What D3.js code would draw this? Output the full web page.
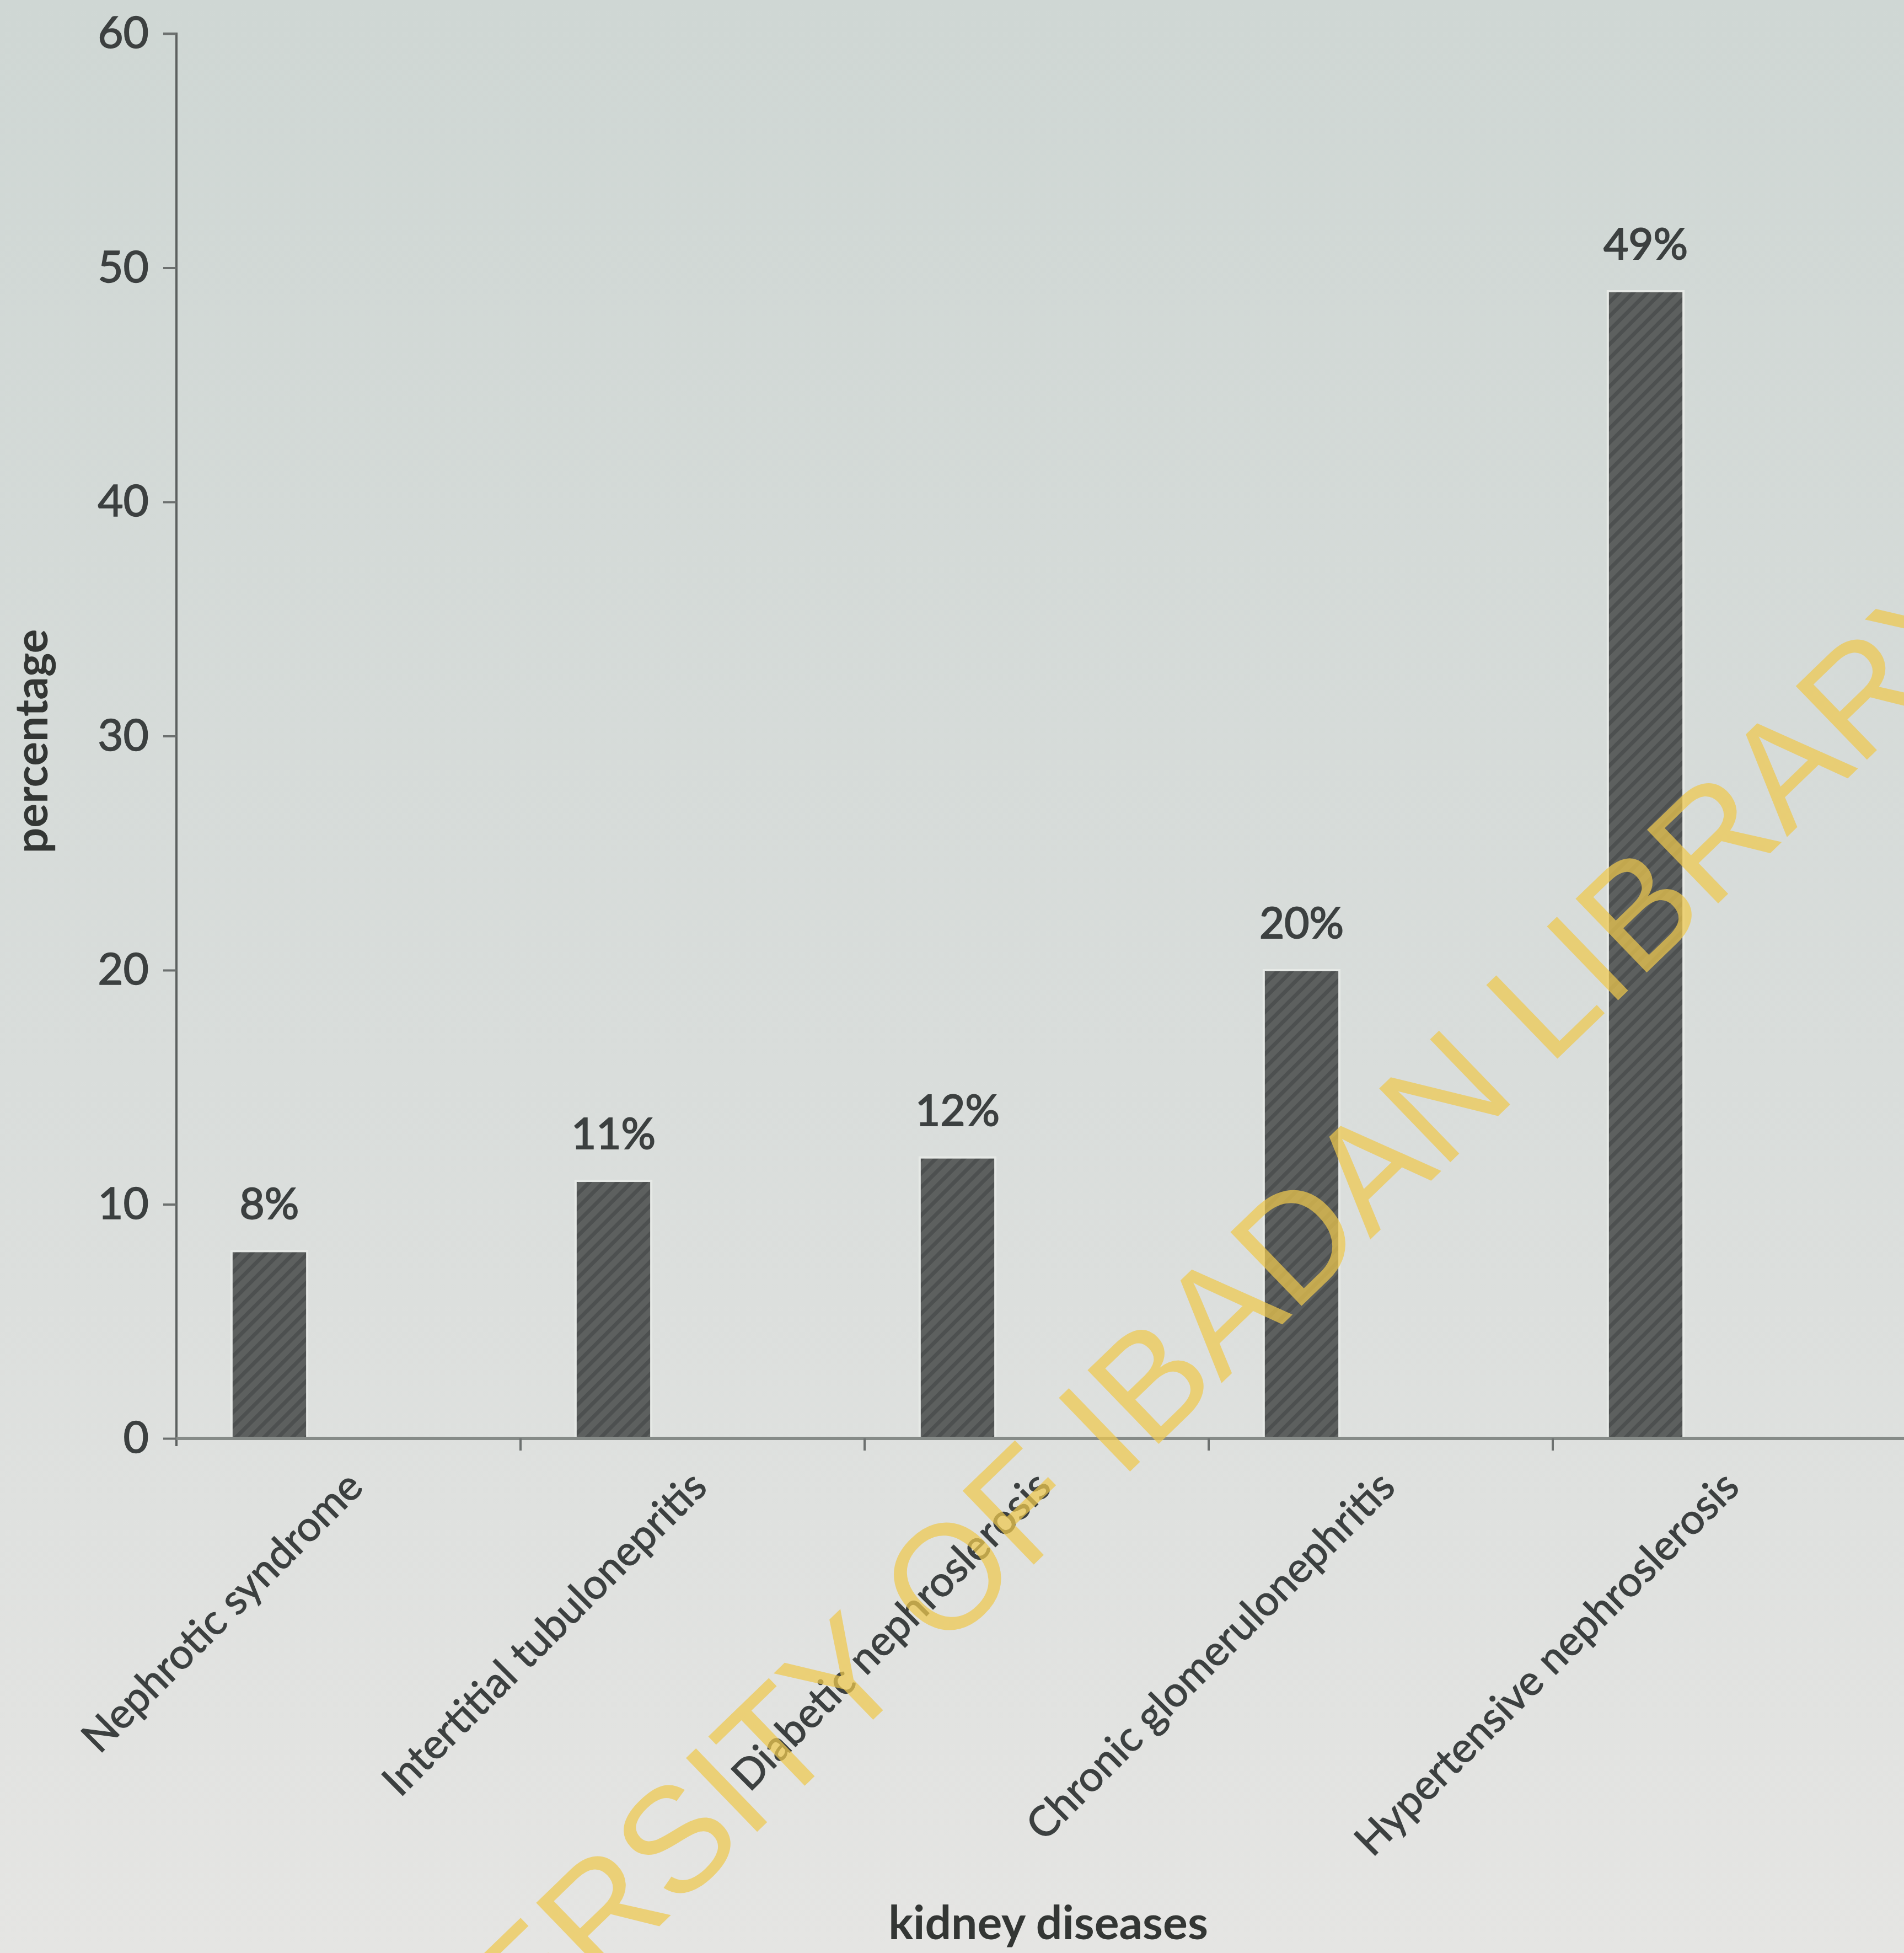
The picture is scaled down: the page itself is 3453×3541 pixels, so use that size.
<!DOCTYPE html>
<html>
<head>
<meta charset="utf-8">
<script src="https://cdn.jsdelivr.net/npm/d3@7"></script>
<style>
  html, body { margin: 0; padding: 0; background: #dcdfdc; }
  svg { display: block; }
</style>
</head>
<body>
<svg id="chart"></svg>
<script>
"use strict";

// data
const categories = ["Nephrotic syndrome", "Intertitial tubulonepritis", "Diabetic nephroslerosis", "Chronic glomerulonephritis", "Hypertensive nephroslerosis"];
const values = [8, 11, 12, 20, 49];
const valueLabels = ["8%", "11%", "12%", "20%", "49%"];
const yTicks = [0, 10, 20, 30, 40, 50, 60];



// settings
const width = 3453,
      height = 3541;
const plot = { left: 320, right: 3440, top: 61, bottom: 2608 };
const font = "Lato, 'Open Sans', sans-serif";
const textColor = "#3c4040";



let svg = d3.select("#chart")
.attr("width", width)
.attr("height", height)
.attr("viewBox", `0 0 ${width} ${height}`);



// defs: paper gradient + hatched bar fill
let defs = svg.append("defs");

let paper = defs.append("linearGradient")
.attr("id", "paper")
.attr("x1", 0).attr("y1", 0).attr("x2", 0).attr("y2", 1);
paper.append("stop").attr("offset", "0%").attr("stop-color", "#cfd7d4");
paper.append("stop").attr("offset", "55%").attr("stop-color", "#d9dddb");
paper.append("stop").attr("offset", "100%").attr("stop-color", "#e5e5e3");

let hatch = defs.append("pattern")
.attr("id", "hatch")
.attr("patternUnits", "userSpaceOnUse")
.attr("width", 18)
.attr("height", 18)
.attr("patternTransform", "rotate(45)");
hatch.append("rect")
.attr("width", 18).attr("height", 18)
.attr("fill", "#5d605f");
hatch.append("rect")
.attr("width", 7).attr("height", 18)
.attr("fill", "#4d5050");

svg.append("rect")
.attr("width", width)
.attr("height", height)
.attr("fill", "url(#paper)");



// scales
let scaleX = d3.scaleBand()
.domain(categories)
.range([plot.left, plot.right])
.paddingInner(0)
.paddingOuter(0);

let scaleY = d3.scaleLinear()
.domain([0, 60])
.range([plot.bottom, plot.top]);

const bw = scaleX.bandwidth();



// y axis
let yAxis = svg.append("g")
.attr("class", "y_axis")
.attr("transform", `translate(${plot.left}, 0)`)
.call(d3.axisLeft(scaleY).tickValues(yTicks).tickSize(24).tickPadding(26).tickFormat(d3.format("d")));
yAxis.select(".domain")
.attr("stroke", "#5c605f")
.attr("stroke-width", 4)
.attr("d", `M-24,${plot.top}H0V${plot.bottom + 14}`);
yAxis.selectAll(".tick line")
.attr("stroke", "#6c706f")
.attr("stroke-width", 4);
yAxis.selectAll(".tick text")
.attr("fill", textColor)
.attr("stroke", textColor)
.attr("stroke-width", 1.5)
.style("font-family", font)
.style("font-size", "80px");



// bars
svg.append("g")
.attr("class", "bars")
.selectAll("rect")
.data(values)
.enter()
.append("rect")
.attr("x", (d, i) => scaleX(categories[i]) + bw * 0.16)
.attr("width", bw * 0.22)
.attr("y", d => scaleY(d))
.attr("height", d => scaleY(0) - scaleY(d))
.attr("fill", "url(#hatch)")
.attr("stroke", "#e6e9e6")
.attr("stroke-width", 4);



// x axis
let xAxis = svg.append("g")
.attr("class", "x_axis")
.attr("transform", `translate(0, ${plot.bottom})`)
.call(d3.axisBottom(scaleX).tickSize(0).tickFormat(""));
xAxis.select(".domain")
.attr("stroke", "#868b88")
.attr("stroke-width", 6)
.attr("d", `M${plot.left},0H${width}`);

// boundary ticks between categories
xAxis.selectAll("line.sep")
.data(categories.slice(1))
.enter()
.append("line")
.attr("class", "sep")
.attr("x1", d => scaleX(d))
.attr("x2", d => scaleX(d))
.attr("y1", 0)
.attr("y2", 22)
.attr("stroke", "#6c706f")
.attr("stroke-width", 4);

// category labels, rotated
svg.append("g")
.attr("class", "x_ticks")
.selectAll("text")
.data(categories)
.enter()
.append("text")
.attr("transform", d => `translate(${scaleX(d) + bw / 2 + 30}, ${plot.bottom + 92}) rotate(-45)`)
.attr("text-anchor", "end")
.attr("fill", textColor)
.attr("stroke", textColor)
.attr("stroke-width", 1.2)
.style("font-family", font)
.style("font-size", "76px")
.text(d => d);



// value labels
svg.append("g")
.attr("class", "value_labels")
.selectAll("text")
.data(values)
.enter()
.append("text")
.attr("x", (d, i) => scaleX(categories[i]) + bw * 0.16 + bw * 0.22 / 2)
.attr("y", d => scaleY(d) - 58)
.attr("text-anchor", "middle")
.attr("fill", textColor)
.attr("stroke", textColor)
.attr("stroke-width", 2)
.style("font-family", font)
.style("font-size", "78px")
.text((d, i) => valueLabels[i]);



// axis titles
svg.append("text")
.attr("transform", `translate(86, 1344) rotate(-90)`)
.attr("text-anchor", "middle")
.attr("fill", "#333634")
.style("font-family", font)
.style("font-weight", "bold")
.style("font-size", "82px")
.text("percentage");

svg.append("text")
.attr("x", 1901)
.attr("y", 3516)
.attr("text-anchor", "middle")
.attr("fill", "#333634")
.style("font-family", font)
.style("font-weight", "bold")
.style("font-size", "84px")
.text("kidney diseases");



// watermark
svg.append("text")
.attr("transform", `translate(2064, 2654) rotate(-44)`)
.attr("text-anchor", "middle")
.attr("fill", "#efc94e")
.attr("opacity", 0.72)
.style("font-family", "'Liberation Sans', Arial, sans-serif")
.style("font-size", "270px")
.text("UNIVERSITY OF IBADAN LIBRARY");
</script>
</body>
</html>
